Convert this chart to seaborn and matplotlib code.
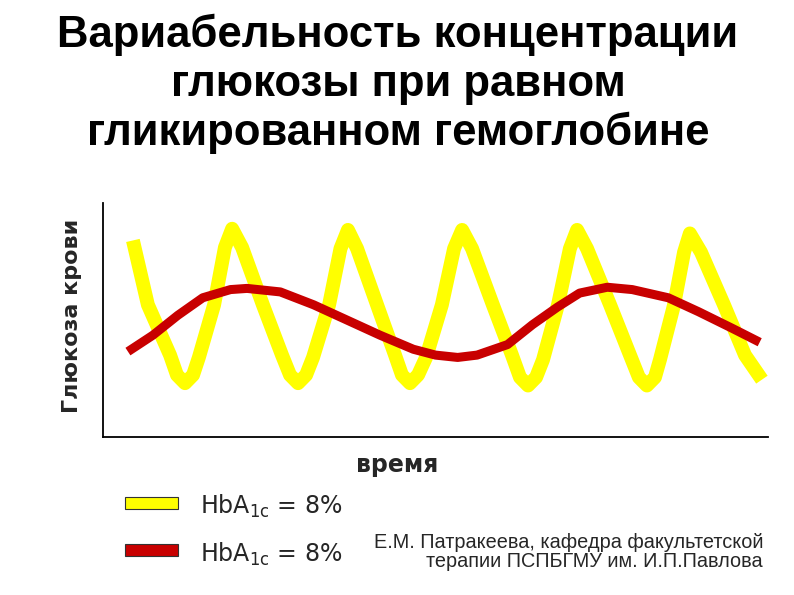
import matplotlib
matplotlib.use("Agg")
import matplotlib.pyplot as plt
import seaborn as sns
from matplotlib.patches import Rectangle

# Данные (время, ч; глюкоза, усл. ед.)
yellow_time = [1.08, 1.62, 2.42, 2.67, 2.96, 3.25, 3.46, 4.01, 4.40, 4.66,
               5.02, 5.77, 6.46, 6.75, 7.04, 7.33, 7.58, 8.16, 8.57, 8.84,
               9.17, 9.89, 10.54, 10.79, 11.08, 11.37, 11.66, 12.23, 12.67,
               12.96, 13.32, 14.07, 14.76, 15.05, 15.34, 15.63, 15.88, 16.42,
               16.85, 17.11, 17.47, 18.30, 19.02, 19.34, 19.63, 19.92, 20.10,
               20.61, 20.97, 21.18, 21.58, 22.41, 23.17, 23.78]
yellow_glucose = [16.8, 11.3, 7.0, 5.3, 4.6, 5.3, 6.8, 11.3, 16.2, 17.8,
                  16.2, 11.3, 7.0, 5.3, 4.6, 5.3, 6.8, 11.3, 16.1, 17.7,
                  16.1, 11.3, 7.0, 5.3, 4.6, 5.3, 6.8, 11.3, 16.1,
                  17.7, 16.1, 11.3, 7.0, 5.1, 4.4, 5.1, 6.6, 11.3,
                  16.1, 17.7, 16.1, 11.3, 7.0, 5.1, 4.4, 5.1, 6.6,
                  11.3, 15.8, 17.4, 15.8, 11.3, 7.0, 4.9]

red_time = [0.9, 1.8, 2.7, 3.6, 4.6, 5.2, 6.4, 7.6, 8.8, 10.0, 11.2, 12.0,
            12.8, 13.5, 14.6, 15.5, 16.4, 17.2, 18.2, 19.1, 20.4, 21.5, 22.7,
            23.7]
red_glucose = [7.3, 8.7, 10.4, 11.9, 12.6, 12.7, 12.4, 11.3, 10.0, 8.7, 7.5,
               7.0, 6.8, 7.0, 7.9, 9.6, 11.1, 12.3, 12.8, 12.6, 11.9, 10.7,
               9.3, 8.1]

title_lines = ["Вариабельность концентрации",
               "глюкозы при равном",
               "гликированном гемоглобине"]
legend_labels = [r"HbA$_{\mathregular{1c}}$ = 8%", r"HbA$_{\mathregular{1c}}$ = 8%"]
legend_colors = ["#FFFF00", "#C80000"]
caption_lines = ["Е.М. Патракеева, кафедра факультетской",
                 "терапии ПСПБГМУ им. И.П.Павлова"]

sns.set_theme(style="white")
plt.rcParams["font.family"] = ["Liberation Sans", "DejaVu Sans"]
plt.rcParams["mathtext.fontset"] = "custom"
plt.rcParams["mathtext.rm"] = "DejaVu Sans"

W, H = 794, 595
fig = plt.figure(figsize=(W / 100, H / 100), dpi=100)
ax = fig.add_axes([103 / W, 1 - 437 / H, 665 / W, 234 / H])

sns.lineplot(x=yellow_time, y=yellow_glucose, ax=ax, color="#FFFF00",
             linewidth=10, solid_capstyle="butt", solid_joinstyle="round")
sns.lineplot(x=red_time, y=red_glucose, ax=ax, color="#C80000",
             linewidth=6.5, solid_capstyle="butt", solid_joinstyle="round")

ax.set_xlim(0, 24)
ax.set_ylim(0, 20)
ax.set_xticks([])
ax.set_yticks([])
sns.despine(ax=ax)
for side in ["left", "bottom"]:
    ax.spines[side].set_color("black")
    ax.spines[side].set_linewidth(1.3)

# Заголовок
for i, line in enumerate(title_lines):
    fig.text(398 / W, 1 - (47 + 49 * i) / H, line, ha="center", va="baseline",
             fontsize=31.5, fontweight="bold", color="black")

# Подписи осей
fig.text(72 / W, 1 - 316 / H, "Глюкоза крови", rotation=90, ha="center",
         va="center", fontsize=16, fontweight="bold",
         family=["DejaVu Sans"])
fig.text(397 / W, 1 - 472 / H, "время", ha="center", va="baseline",
         fontsize=17, fontweight="bold", family=["DejaVu Sans"])

# Легенда
for i, (lab, col) in enumerate(zip(legend_labels, legend_colors)):
    y0 = 509 + 47 * i
    fig.add_artist(Rectangle((125 / W, 1 - y0 / H), 53 / W, 12 / H,
                             transform=fig.transFigure, facecolor=col,
                             edgecolor="#333333", linewidth=0.8))
    fig.text(200 / W, 1 - (514 + 48 * i) / H, lab, ha="left", va="baseline",
             fontsize=17, family=["DejaVu Sans"])

# Подпись автора
for i, line in enumerate(caption_lines):
    fig.text(763 / W, 1 - (548 + 19 * i) / H, line, ha="right", va="baseline",
             fontsize=14.3, family=["Liberation Sans"])

fig.savefig("out.png", dpi=100)
